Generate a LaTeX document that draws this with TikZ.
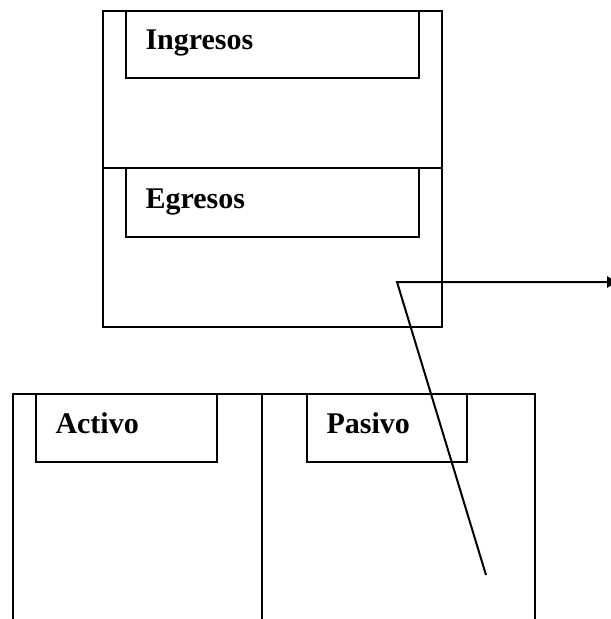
\documentclass[tikz,border=0pt]{standalone}
\usepackage{fontspec}
\setmainfont{Liberation Serif}
\usetikzlibrary{arrows.meta}
\tikzset{
  cuenta/.style={line width=1pt},
  rotulo/.style={line width=0.8pt},
  titulo/.style={anchor=base west,inner sep=0pt,font=\fontsize{12}{14}\selectfont\bfseries},
}
\begin{document}
\begin{tikzpicture}[x=0.4pt,y=-0.4pt]
\clip (0,0) rectangle (611,619);

% estado de resultados
\draw[cuenta] (103,11) rectangle (442,327);
\draw[cuenta] (103,168) -- (442,168);
\draw[rotulo] (126,11) rectangle (419,78);
\draw[rotulo] (126,168) rectangle (419,237);
\node[titulo] (ingresos) at (145,50) {Ingresos};
\node[titulo] (egresos) at (145,208) {Egresos};

% balance
\draw[cuenta] (13,630) -- (13,394) -- (535,394) -- (535,630);
\draw[cuenta] (262,394) -- (262,630);
\draw[rotulo] (36,394) rectangle (217,462);
\draw[rotulo] (307,394) rectangle (467,462);
\node[titulo] (activo) at (55,433) {Activo};
\node[titulo] (pasivo) at (326,433) {Pasivo};

% traspaso
\coordinate (desde) at (486,575);
\coordinate (quiebre) at (397,282);
\coordinate (hacia) at (617,282);
\draw[line width=0.8pt,-{Triangle[length=4pt,width=4.5pt]}] (desde) -- (quiebre) -- (hacia);
\end{tikzpicture}
\end{document}
